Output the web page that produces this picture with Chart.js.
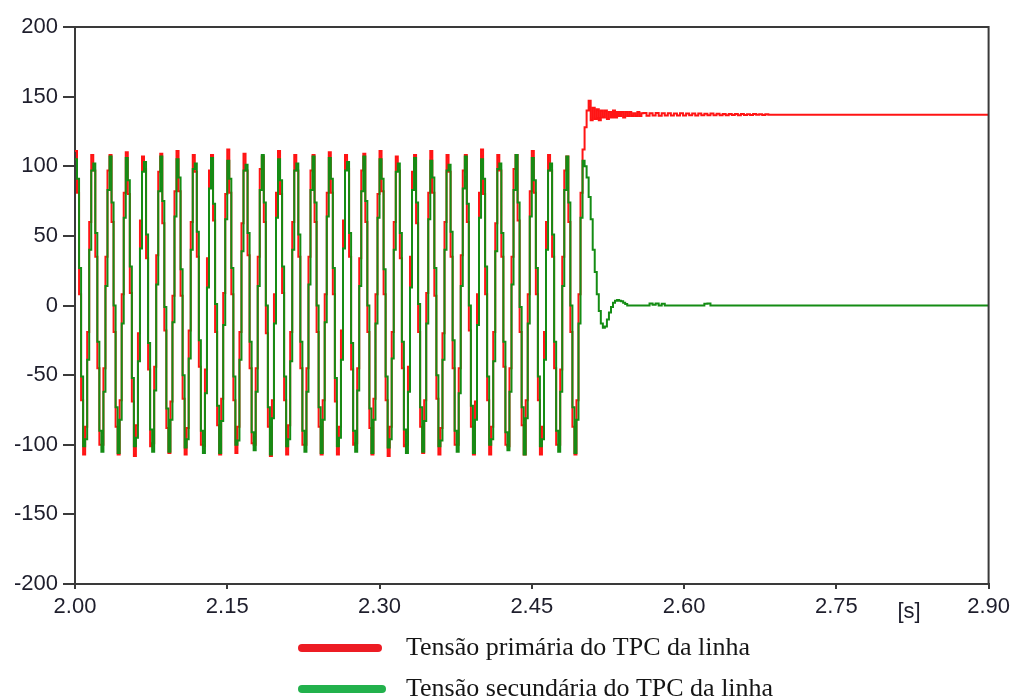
<!DOCTYPE html>
<html>
<head>
<meta charset="utf-8">
<title>Tensões do TPC da linha</title>
<script src="https://cdn.jsdelivr.net/npm/chart.js@4/dist/chart.umd.min.js"></script>
<style>
  html, body { margin: 0; padding: 0; background: #ffffff; }
  canvas { display: block; }
</style>
</head>
<body>
<canvas id="chart" width="1015" height="700"></canvas>
<script>
// Sampled record: one value every 2 ms from t = 2.000 s up to 2.498 s
const sampleStart = 2.0;
const sampleStep = 0.002;

const primarySamples = [
  111, 81, 8, -68, -107, -87, -19, 60, 108, 97, 35, -45, -100, -100, -45, 35, 97, 108, 60, -19, -87, -107, -68, 8, 81,
  110, 80, 9, -69, -108, -86, -20, 61, 107, 98, 34, -46, -101, -99, -44, 36, 96, 109, 59, -18, -88, -106, -69, 7, 82,
  111, 82, 7, -67, -107, -88, -18, 60, 108, 96, 35, -44, -100, -101, -46, 34, 97, 108, 61, -19, -86, -107, -67, 9, 80,
  112, 81, 8, -68, -106, -87, -19, 59, 109, 97, 36, -45, -99, -100, -45, 35, 98, 107, 60, -20, -87, -108, -68, 8, 81,
  111, 80, 9, -68, -107, -86, -19, 60, 108, 97, 35, -45, -100, -100, -45, 35, 97, 108, 60, -19, -87, -107, -68, 8, 81,
  110, 81, 8, -69, -107, -87, -18, 61, 108, 98, 35, -46, -100, -99, -45, 34, 97, 109, 60, -19, -88, -107, -67, 8, 80,
  111, 82, 8, -68, -108, -87, -19, 60, 107, 97, 34, -45, -101, -100, -44, 35, 96, 108, 59, -19, -87, -106, -68, 9, 81,
  111, 81, 7, -67, -107, -88, -20, 60, 108, 96, 35, -45, -100, -100, -45, 36, 97, 108, 60, -18, -87, -107, -69, 8, 81,
  112, 80, 8, -68, -107, -87, -19, 59, 108, 97, 35, -44, -100, -101, -45, 35, 98, 108, 61, -19, -86, -107, -68, 8, 82,
  111, 81, 8, -68, -107, -87, -19, 60, 108, 97, 35, -45, -100, -100, -46, 35, 97, 107, 60, -19, -87, -107, -68, 8, 81
];

const secondarySamples = [
  105, 91, 27, -51, -101, -96, -39, 40, 97, 102, 52, -26, -90, -105, -62, 14, 83, 107, 74, 0, -73, -106, -82, -13, 63,
  106, 90, 28, -52, -101, -95, -40, 41, 96, 103, 51, -27, -89, -105, -61, 15, 82, 107, 75, -1, -74, -105, -82, -12, 64,
  105, 92, 26, -50, -102, -96, -38, 40, 98, 102, 53, -25, -90, -106, -63, 13, 84, 106, 73, 1, -72, -106, -83, -14, 62,
  104, 91, 27, -51, -100, -97, -39, 39, 97, 101, 52, -26, -91, -104, -62, 14, 83, 108, 74, 0, -73, -107, -81, -13, 63,
  105, 90, 28, -51, -101, -96, -40, 40, 97, 102, 51, -26, -90, -105, -62, 15, 83, 107, 74, 0, -73, -106, -82, -12, 64,
  106, 91, 27, -52, -101, -95, -39, 41, 97, 103, 52, -27, -90, -105, -61, 14, 82, 107, 75, 0, -74, -106, -82, -13, 63,
  105, 91, 26, -51, -102, -96, -38, 40, 96, 102, 52, -26, -89, -106, -62, 13, 83, 106, 74, 1, -73, -105, -83, -13, 62,
  104, 92, 27, -50, -101, -97, -39, 40, 97, 101, 53, -25, -90, -105, -63, 14, 84, 107, 73, 0, -72, -106, -82, -14, 63,
  105, 91, 28, -51, -100, -96, -40, 39, 98, 102, 52, -26, -91, -104, -62, 15, 83, 108, 74, -1, -73, -107, -81, -13, 64,
  106, 90, 27, -51, -101, -96, -39, 40, 97, 102, 51, -26, -90, -105, -62, 14, 83, 107, 74, 0, -73, -106, -82, -13, 63
];

// After the disturbance at t = 2.50 s: explicit time stamps and values
const tailTimes = [
  2.500, 2.502, 2.504, 2.506, 2.508, 2.510, 2.512, 2.514, 2.516, 2.518,
  2.520, 2.522, 2.524, 2.526, 2.528, 2.530, 2.532, 2.534, 2.536, 2.538,
  2.540, 2.542, 2.544, 2.546, 2.548, 2.550, 2.552, 2.554, 2.556, 2.558,
  2.560, 2.563, 2.566, 2.569, 2.572, 2.575, 2.578, 2.581, 2.584, 2.587,
  2.590, 2.593, 2.596, 2.599, 2.602, 2.605, 2.608, 2.611, 2.614, 2.617,
  2.620, 2.623, 2.626, 2.629, 2.632, 2.635, 2.638, 2.641, 2.644, 2.647,
  2.650, 2.653, 2.656, 2.659, 2.662, 2.665, 2.668, 2.671, 2.674, 2.677,
  2.680, 2.683, 2.900
];
const primaryTail = [
  112, 128, 140, 147, 133, 142, 134, 141, 133, 140,
  135, 140, 134, 139, 135, 140, 135, 139, 136, 139,
  135, 139, 136, 139, 136, 138, 136, 139, 136, 138,
  138.3, 136.2, 138.1, 136.4, 138.2, 136.3, 138.0, 136.4, 138.1, 136.5,
  137.9, 136.4, 138.0, 136.5, 137.8, 136.6, 137.9, 136.5, 137.8, 136.6,
  137.7, 136.6, 137.8, 136.7, 137.7, 136.6, 137.6, 136.7, 137.6, 136.8,
  137.5, 136.7, 137.6, 136.8, 137.4, 136.8, 137.5, 136.9, 137.4, 136.8,
  137.3, 137.0, 137
];
const secondaryTail = [
  104, 100, 92, 78, 62, 40, 24, 8, -4, -13,
  -16, -15, -10, -5, -1, 2, 3.5, 4, 3.5, 3,
  2, 1, 0, 0, 0, 0, 0, 0, 0, 0,
  0, 0, 1.5, 0.5, 1.5, 0, 1.2, 0, 0, 0,
  0, 0, 0, 0, 0, 0, 0, 0, 0, 0,
  1.2, 1.5, 0, 0, 0, 0, 0, 0, 0, 0,
  0, 0, 0, 0, 0, 0, 0, 0, 0, 0,
  0, 0, 0
];

const xTickValues = [2.00, 2.15, 2.30, 2.45, 2.60, 2.75, 2.90];
const yTickValues = [-200, -150, -100, -50, 0, 50, 100, 150, 200];
const seriesLabels = ['Tensão primária do TPC da linha', 'Tensão secundária do TPC da linha'];
const timeUnitLabel = '[s]';

function toPoints(samples, tailT, tailV) {
  const pts = samples.map((v, i) => ({ x: sampleStart + i * sampleStep, y: v }));
  tailT.forEach((t, i) => pts.push({ x: t, y: tailV[i] }));
  return pts;
}

const axisColor = '#3a3a3a';
const textColor = '#1e1e2c';
const plotColors = ['#ff1414', '#148c14'];
const legendColors = ['#ed1c24', '#22b14c'];

// Frame on the top/right edges, unit label and the legend under the axes
const decorPlugin = {
  id: 'decor',
  afterDraw(chart) {
    const { ctx, chartArea: a } = chart;
    ctx.save();
    ctx.strokeStyle = axisColor;
    ctx.lineWidth = 2;
    ctx.beginPath();
    ctx.moveTo(a.left, a.top);
    ctx.lineTo(a.right, a.top);
    ctx.lineTo(a.right, a.bottom);
    ctx.stroke();

    ctx.fillStyle = textColor;
    ctx.font = '22px "Liberation Sans", Arial, sans-serif';
    ctx.textAlign = 'center';
    ctx.textBaseline = 'middle';
    ctx.fillText(timeUnitLabel, 909, 612);

    const rows = [648, 689];
    ctx.font = '26px "Liberation Serif", "Times New Roman", serif';
    ctx.textAlign = 'left';
    ctx.textBaseline = 'alphabetic';
    seriesLabels.forEach((label, i) => {
      ctx.strokeStyle = legendColors[i];
      ctx.lineWidth = 8;
      ctx.lineCap = 'round';
      ctx.beginPath();
      ctx.moveTo(302, rows[i]);
      ctx.lineTo(i === 0 ? 378 : 382, rows[i]);
      ctx.stroke();
      ctx.fillStyle = '#151515';
      ctx.fillText(label, 406, rows[i] + 7);
    });
    ctx.restore();
  }
};

new Chart(document.getElementById('chart'), {
  type: 'line',
  data: {
    datasets: [
      {
        label: seriesLabels[0],
        data: toPoints(primarySamples, tailTimes, primaryTail),
        borderColor: plotColors[0],
        borderWidth: 2,
        stepped: true,
        pointRadius: 0,
        fill: false,
        order: 1
      },
      {
        label: seriesLabels[1],
        data: toPoints(secondarySamples, tailTimes, secondaryTail),
        borderColor: plotColors[1],
        borderWidth: 2,
        stepped: true,
        pointRadius: 0,
        fill: false,
        order: 0
      }
    ]
  },
  options: {
    responsive: false,
    animation: false,
    events: [],
    layout: { padding: { top: 27, right: 26, left: 0, bottom: 0 } },
    plugins: {
      legend: { display: false },
      tooltip: { enabled: false }
    },
    scales: {
      x: {
        type: 'linear',
        min: 2.0,
        max: 2.9,
        afterFit(scale) { scale.height = 116; },
        afterBuildTicks(scale) { scale.ticks = xTickValues.map(v => ({ value: v })); },
        border: { display: true, color: axisColor, width: 2 },
        grid: { drawOnChartArea: false, drawTicks: true, tickLength: 5, color: axisColor, lineWidth: 2 },
        ticks: {
          autoSkip: false,
          maxRotation: 0,
          padding: 5,
          color: textColor,
          font: { family: '"Liberation Sans", Arial, sans-serif', size: 22 },
          callback: v => Number(v).toFixed(2)
        }
      },
      y: {
        min: -200,
        max: 200,
        afterFit(scale) { scale.width = 75; },
        afterBuildTicks(scale) { scale.ticks = yTickValues.map(v => ({ value: v })); },
        border: { display: true, color: axisColor, width: 2 },
        grid: { drawOnChartArea: false, drawTicks: true, tickLength: 12, color: axisColor, lineWidth: 2 },
        ticks: {
          padding: 5,
          color: textColor,
          font: { family: '"Liberation Sans", Arial, sans-serif', size: 22 },
          callback: v => String(v)
        }
      }
    }
  },
  plugins: [decorPlugin]
});
</script>
</body>
</html>
